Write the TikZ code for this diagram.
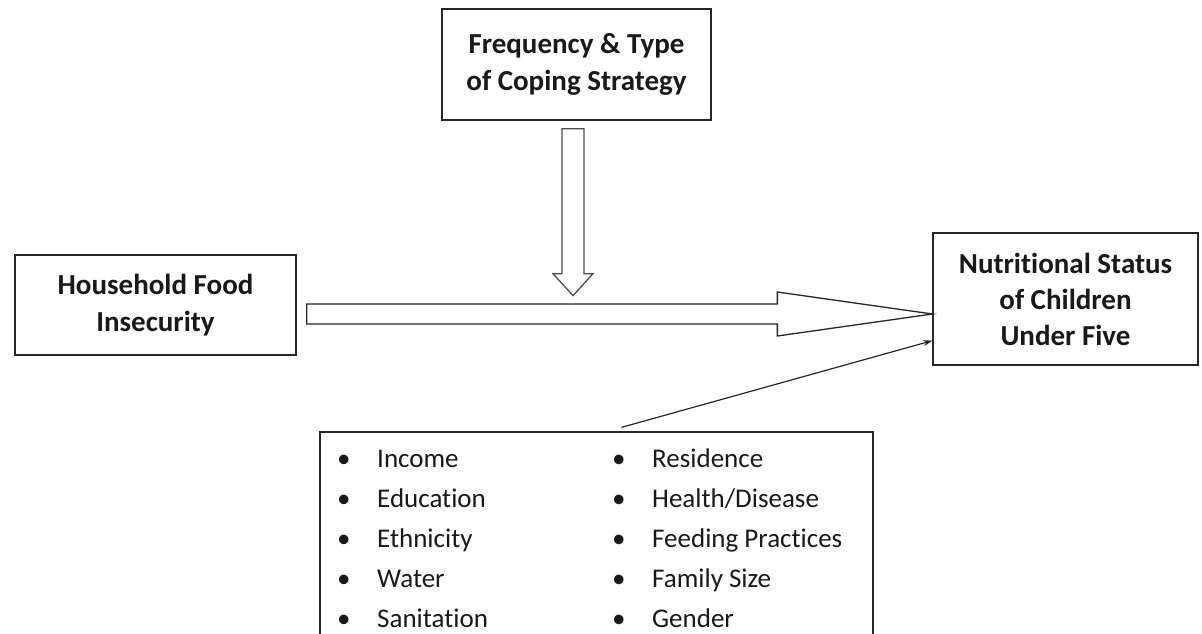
\documentclass[tikz,border=0pt]{standalone}
\usepackage{fontspec}
\setmainfont{Carlito}[Ligatures=NoCommon]
\usetikzlibrary{arrows.meta,positioning,calc}

\begin{document}
\begin{tikzpicture}[
  x=1pt, y=-1pt,
  every node/.style={font=\fontsize{27}{36}\selectfont, text=black!90},
  box/.style={draw=black!85, line width=1.3pt, fill=white, align=center, font=\bfseries\fontsize{29}{37}\selectfont},
  blockarrow/.style={draw=black!85, line width=1.3pt, fill=white, line join=miter},
  item/.style={anchor=base west, inner sep=0pt}
]
  \useasboundingbox (0,0) rectangle (1202,633);
  \clip (0,0) rectangle (1202,633);

  % Boxes
  \node[box, minimum width=269pt, minimum height=111pt] (coping) at (576.5,64.5) {Frequency \& Type\\of Coping Strategy};
  \node[box, minimum width=281pt, minimum height=100pt] (household) at (155.5,305) {Household Food\\Insecurity};
  \node[box, minimum width=265pt, minimum height=132pt, font=\bfseries\fontsize{29}{36}\selectfont] (nutrition) at (1065.5,299) {Nutritional Status\\of Children\\Under Five};
  \node[box, minimum width=553pt, minimum height=240pt] (factors) at (596.5,552) {};

  % Factor lists
  \foreach \name [count=\i] in {Income, Education, Ethnicity, Water, Sanitation} {
    \node[item] (lf-\i) at (377, {467+40*(\i-1)}) {\name};
    \node[item] (lb-\i) at (337, {467+40*(\i-1)}) {\textbullet};
  }
  \foreach \name [count=\i] in {Residence, Health/Disease, Feeding Practices, Family Size, Gender} {
    \node[item] (rf-\i) at (652, {467+40*(\i-1)}) {\name};
    \node[item] (rb-\i) at (612, {467+40*(\i-1)}) {\textbullet};
  }

  % Block arrows
  \coordinate (htip) at ($(nutrition.west)+(0,15)$);
  \draw[blockarrow] ($(household.east)+(10,-1)$) -- ($(htip)+(-155,-10)$) -- ($(htip)+(-155,-22)$) -- (htip)
    -- ($(htip)+(-155,22)$) -- ($(htip)+(-155,10)$) -- ($(household.east)+(10,19)$) -- cycle;

  \coordinate (vtip) at ($(coping.south)+(-3.5,175)$);
  \draw[blockarrow, draw=black!70] ($(coping.south)+(-14.5,8)$) -- ($(coping.south)+(7.5,8)$) -- ($(vtip)+(11,-22)$)
    -- ($(vtip)+(20,-22)$) -- (vtip) -- ($(vtip)+(-20,-22)$) -- ($(vtip)+(-11,-22)$) -- cycle;

  % Thin arrow
  \draw[-{Stealth[length=9pt,width=6pt]}, line width=1.2pt, black!85] ($(factors.north)+(25,-4)$) -- ($(nutrition.south west)+(0,-25)$);
\end{tikzpicture}
\end{document}
